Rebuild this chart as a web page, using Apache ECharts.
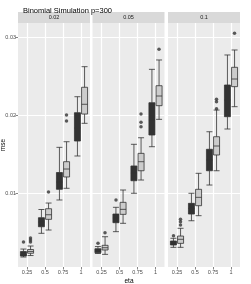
<!DOCTYPE html>
<html>
<head>
<meta charset="utf-8">
<script src="https://cdn.jsdelivr.net/npm/echarts@6/dist/echarts.min.js"></script>
<style>
html,body{margin:0;padding:0;background:#fff;}
#c{width:251px;height:284px;}
</style>
</head>
<body>
<div id="c"></div>
<script>
// ---- data ----
const titleText = 'Binomial Simulation p=300';
const xTitle = 'eta';
const yTitle = 'mse';
const panels = ['0.02', '0.05', '0.1'];
const etaCats = ['0.25', '0.5', '0.75', '1'];
const yTicks = [0.01, 0.02, 0.03];
const yMinor = [0.005, 0.015, 0.025];

// box stats: [low whisker, Q1, median, Q3, high whisker]
const dark002 = [
  [0.00186, 0.00199, 0.00218, 0.00256, 0.00288],
  [0.00490, 0.00574, 0.00634, 0.00690, 0.00795],
  [0.00917, 0.01054, 0.01147, 0.01269, 0.01592],
  [0.01481, 0.01673, 0.01840, 0.02036, 0.02241]
];
const light002 = [
  [0.00205, 0.00234, 0.00256, 0.00282, 0.00327],
  [0.00532, 0.00669, 0.00728, 0.00805, 0.00878],
  [0.01067, 0.01212, 0.01314, 0.01408, 0.01664],
  [0.01900, 0.02019, 0.02144, 0.02362, 0.02626]
];
const dark005 = [
  [0.00231, 0.00241, 0.00263, 0.00292, 0.00320],
  [0.00511, 0.00626, 0.00686, 0.00737, 0.00823],
  [0.01003, 0.01164, 0.01263, 0.01353, 0.01631],
  [0.01600, 0.01750, 0.01942, 0.02164, 0.02592]
];
const light005 = [
  [0.00220, 0.00276, 0.00305, 0.00336, 0.00446],
  [0.00618, 0.00733, 0.00797, 0.00887, 0.01045],
  [0.01173, 0.01292, 0.01408, 0.01515, 0.01715],
  [0.01951, 0.02126, 0.02250, 0.02382, 0.02712]
];
const dark01 = [
  [0.00310, 0.00340, 0.00365, 0.00391, 0.00426],
  [0.00651, 0.00737, 0.00808, 0.00874, 0.01003],
  [0.01109, 0.01292, 0.01429, 0.01567, 0.01792],
  [0.01827, 0.01985, 0.02199, 0.02391, 0.02776]
];
const light01 = [
  [0.00310, 0.00361, 0.00413, 0.00455, 0.00554],
  [0.00716, 0.00844, 0.00951, 0.01054, 0.01259],
  [0.01292, 0.01494, 0.01609, 0.01728, 0.02070],
  [0.02113, 0.02370, 0.02468, 0.02618, 0.02840]
];
// outliers: [category index, value]
const darkOut002 = [[0, 0.00378]];
const lightOut002 = [[0, 0.00429], [0, 0.00404], [0, 0.00378], [1, 0.01019], [2, 0.02007], [2, 0.01930]];
const darkOut005 = [[0, 0.00362], [1, 0.00917]];
const lightOut005 = [[0, 0.00498], [2, 0.02019], [2, 0.01913], [2, 0.01856], [3, 0.02849]];
const darkOut01 = [[0, 0.00459]];
const lightOut01 = [[0, 0.00669], [0, 0.00639], [0, 0.00596], [2, 0.02208], [2, 0.02177], [2, 0.02087], [3, 0.03054]];

const darkBoxes = [dark002, dark005, dark01];
const lightBoxes = [light002, light005, light01];
const darkOuts = [darkOut002, darkOut005, darkOut01];
const lightOuts = [lightOut002, lightOut005, lightOut01];

// ---- layout / style ----
const FONT = 'Liberation Sans';
const panelLeft = [18, 92.5, 168];
const panelW = 72;
const panelTop = 23;
const panelBottom = 267;
const yMin = 0.00058, yMax = 0.03186;
const DARK = '#333333', LIGHT = '#CCCCCC', LINE = '#333333';

const chart = echarts.init(document.getElementById('c'), null, {renderer: 'canvas'});

const noLabel = {show: false};
const grids = [], xAxes = [], yAxes = [], series = [], graphics = [];
panels.forEach((p, i) => {
  grids.push({
    left: panelLeft[i], top: panelTop, width: panelW, height: panelBottom - panelTop,
    show: true, backgroundColor: '#EBEBEB', borderWidth: 0, containLabel: false
  });
  xAxes.push({
    type: 'category', gridIndex: i, data: etaCats, boundaryGap: true,
    axisLine: {show: false},
    axisTick: {show: true, alignWithLabel: true, length: 2.5, lineStyle: {color: '#333333', width: 0.6}},
    axisLabel: {fontSize: 5.5, color: '#4D4D4D', margin: 2.5, fontFamily: FONT},
    splitLine: {show: false}
  });
  if (i === 0) {
    yAxes.push({
      type: 'value', gridIndex: i, min: yMin, max: yMax,
      axisLine: {show: false},
      axisTick: {show: true, length: 2.5, customValues: yTicks, lineStyle: {color: '#333333', width: 0.6}},
      axisLabel: {show: true, customValues: yTicks, fontSize: 5.5, color: '#4D4D4D', margin: 2,
        fontFamily: FONT, formatter: v => v.toFixed(2)},
      splitLine: {show: false}
    });
  } else {
    yAxes.push({
      type: 'value', gridIndex: i, min: yMin, max: yMax, show: false,
      axisLine: {show: false}, axisTick: {show: false}, axisLabel: {show: false}, splitLine: {show: false}
    });
  }
  // gridlines
  const ml = [];
  yMinor.forEach(v => ml.push({yAxis: v, label: noLabel, lineStyle: {color: '#FFFFFF', width: 0.8, type: 'solid'}}));
  yTicks.forEach(v => ml.push({yAxis: v, label: noLabel, lineStyle: {color: '#FFFFFF', width: 1.2, type: 'solid'}}));
  etaCats.forEach(c => ml.push({xAxis: c, label: noLabel, lineStyle: {color: '#FFFFFF', width: 1.2, type: 'solid'}}));
  series.push({
    type: 'line', xAxisIndex: i, yAxisIndex: i, data: [], z: 1, silent: true,
    markLine: {silent: true, symbol: 'none', z: 1, animation: false,
      label: noLabel, emphasis: {disabled: true, label: noLabel}, data: ml}
  });
  series.push({
    type: 'boxplot', name: 'dark', xAxisIndex: i, yAxisIndex: i, data: darkBoxes[i],
    boxWidth: [6, 6], z: 3,
    itemStyle: {color: DARK, borderColor: LINE, borderWidth: 0.8}
  });
  series.push({
    type: 'boxplot', name: 'light', xAxisIndex: i, yAxisIndex: i, data: lightBoxes[i],
    boxWidth: [6, 6], z: 3,
    itemStyle: {color: LIGHT, borderColor: LINE, borderWidth: 0.8}
  });
  series.push({
    type: 'scatter', xAxisIndex: i, yAxisIndex: i, data: darkOuts[i], symbolSize: 3.5,
    symbolOffset: [-3.5, 0], z: 4, itemStyle: {color: '#333333'}
  });
  series.push({
    type: 'scatter', xAxisIndex: i, yAxisIndex: i, data: lightOuts[i], symbolSize: 3.5,
    symbolOffset: [3.5, 0], z: 4, itemStyle: {color: '#333333'}
  });
  // strip
  graphics.push({
    type: 'rect', shape: {x: panelLeft[i], y: 12, width: panelW, height: 11},
    style: {fill: '#D9D9D9'}, silent: true
  });
  graphics.push({
    type: 'text', x: panelLeft[i] + panelW / 2, y: 17.5, silent: true,
    style: {text: p, fontSize: 5.5, fontFamily: FONT, fill: '#1A1A1A', align: 'center', verticalAlign: 'middle'}
  });
});

graphics.push({
  type: 'text', x: 129, y: 281.5, silent: true,
  style: {text: xTitle, fontSize: 6.5, fontFamily: FONT, fill: '#000000', align: 'center', verticalAlign: 'middle'}
});
graphics.push({
  type: 'text', x: 3, y: 145, rotation: Math.PI / 2, silent: true,
  style: {text: yTitle, fontSize: 6.5, fontFamily: FONT, fill: '#000000', align: 'center', verticalAlign: 'middle'}
});

chart.setOption({
  animation: false,
  title: {
    text: titleText, left: 18, top: 2,
    textStyle: {fontSize: 7.5, fontWeight: 'normal', color: '#000000', fontFamily: FONT}
  },
  grid: grids,
  xAxis: xAxes,
  yAxis: yAxes,
  series: series,
  graphic: graphics
});
</script>
</body>
</html>
